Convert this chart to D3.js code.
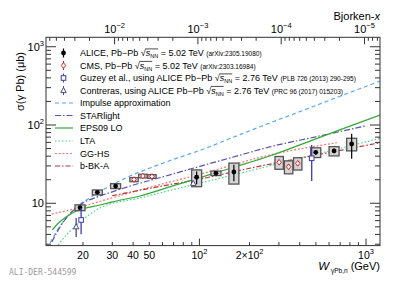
<!doctype html>
<html>
<head>
<meta charset="utf-8">
<script src="https://cdnjs.cloudflare.com/ajax/libs/d3/7.8.5/d3.min.js"></script>
<style>
  body { margin: 0; background: #fff; }
  svg { display: block; }
  text { font-family: "Liberation Sans", Arial, sans-serif; fill: #000; white-space: pre; }
</style>
</head>
<body>
<svg width="407" height="288"></svg>
<script>
// ---- data ----
var aliceW     = [19.2, 24.4, 31.4, 96.2, 125.7, 161, 499, 643, 820];
var aliceSigma = [8.8, 13.8, 16.6, 21.5, 24.2, 25.1, 44.8, 46.6, 57.2];
var aliceStat  = [0.5, 0.6, 0.7, 4.0, 1.0, 6.0, 3.0, 3.0, 20.0];
var aliceSyst  = [0.75, 1.0, 1.2, 5.2, 1.6, 7.5, 6.4, 6.3, 10.5];

var cmsW     = [40.5, 45.8, 51.9, 301, 343, 389];
var cmsSigma = [20.1, 22.3, 22.0, 33.4, 29.3, 32.4];
var cmsStat  = [0.6, 0.6, 0.6, 2.5, 2.5, 2.5];
var cmsSyst  = [1.2, 1.2, 1.2, 6.2, 5.5, 5.8];

var guzeyW     = [19.5, 472];
var guzeySigma = [6.12, 37.6];
var guzeyUp    = [2.6, 18.0];
var guzeyDown  = [2.1, 18.3];

var contrW     = [18.2, 91.8];
var contrSigma = [5.02, 18.0];
var contrUp    = [1.47, 1.0];
var contrDown  = [1.31, 1.0];

var impulseW = [12.7, 14, 16, 18.7, 22, 26, 30, 38.3, 50, 70, 102, 150, 264, 400, 600, 900, 1213];
var impulseS = [3.11, 4.5, 6.6, 9.24, 11.8, 14.6, 17.3, 22.3, 28.0, 36.4, 47.9, 66.2, 106, 148, 206, 286, 364];

var starlightW = [13, 15, 19.2, 25, 30, 38.3, 60, 102, 160, 264, 500, 989];
var starlightS = [3.2, 5.5, 9.5, 12.3, 14.0, 16.6, 21.7, 29.9, 39.0, 52.5, 70.7, 97.2];

var eps09W = [13.1, 14, 16, 18.3, 25.3, 30, 43.9, 70, 102, 160, 264, 500, 800, 1213];
var eps09S = [4.56, 5.4, 6.8, 7.97, 9.5, 10.4, 12.4, 16.8, 21.4, 28.8, 40.2, 66.6, 96.6, 134];

var ltaW = [14.2, 16, 19.2, 25.3, 43.9, 102, 231, 500, 1213];
var ltaS = [2.93, 4.0, 5.77, 8.71, 11.7, 18.2, 28.0, 42.2, 67.6];

var gghsW = [13, 16.7, 25, 43.9, 102, 264, 668];
var gghsS = [7.29, 8.21, 10.5, 14.8, 23.7, 41.4, 59.4];

var bbkW = [30, 50, 102, 200, 506, 1213];
var bbkS = [12.5, 15.5, 20.5, 28, 41.4, 59.4];

var bottomTicks = [20, 30, 40, 50, 100, 200, 1000];
var leftTicks = [10, 100, 1000];
var topTicks = [1e-2, 1e-3, 1e-4, 1e-5];
var MJPSI = 3.097;

// ---- layout ----
var svg = d3.select("svg");
var X0 = 46, X1 = 380, Y0 = 37.3, Y1 = 245.6;
var x = d3.scaleLog().domain([12.0, 1213]).range([X0, X1]);
var y = d3.scaleLog().domain([2.88, 1320]).range([Y1, Y0]);
var xb = d3.scaleLog()
  .domain([Math.pow(MJPSI / 12.0, 2), Math.pow(MJPSI / 1213, 2)])
  .range([X0, X1]);

function isDecade(v) {
  var l = Math.log10(v);
  return Math.abs(l - Math.round(l)) < 1e-6;
}

// text made of pieces (sub/superscripts, overlines)
function rich(g, x0, y0, parts, anchor) {
  var grp = g.append("g");
  var cx = 0, items = [];
  parts.forEach(function (p) {
    var t = grp.append("text").attr("x", cx).attr("y", p.dy || 0)
      .style("font-size", p.s + "px").text(p.t);
    if (p.i) t.style("font-style", "italic");
    var w = t.node().getComputedTextLength();
    items.push({ x: cx, w: w, p: p });
    cx += w;
  });
  var ol = items.filter(function (it) { return it.p.ol; });
  if (ol.length) {
    grp.append("line")
      .attr("x1", ol[0].x - 0.5).attr("x2", ol[ol.length - 1].x + ol[ol.length - 1].w)
      .attr("y1", ol[0].p.ol).attr("y2", ol[0].p.ol)
      .attr("stroke", "#000").attr("stroke-width", 0.7);
  }
  var shift = anchor === "end" ? -cx : anchor === "middle" ? -cx / 2 : 0;
  grp.attr("transform", "translate(" + (x0 + shift) + "," + y0 + ")");
  return grp;
}

// clip
svg.append("clipPath").attr("id", "frame").append("rect")
  .attr("x", X0).attr("y", Y0).attr("width", X1 - X0).attr("height", Y1 - Y0);

// ---- curves ----
function curve(ws, ss, color, dash, width) {
  var pts = ws.map(function (w, i) { return [w, ss[i]]; });
  svg.append("path")
    .attr("clip-path", "url(#frame)")
    .attr("d", d3.line().x(function (d) { return x(d[0]); })
      .y(function (d) { return y(d[1]); }).curve(d3.curveMonotoneX)(pts))
    .attr("fill", "none").attr("stroke", color)
    .attr("stroke-width", width || 1.2)
    .attr("stroke-dasharray", dash);
}
var styles = {
  impulse: ["#5aaaf5", "4,3"],
  starlight: ["#5a4fb0", "6,2,1.5,2"],
  eps09: ["#33a833", null],
  lta: ["#3fd98a", "1.5,2"],
  gghs: ["#ff6464", "1.8,2"],
  bbk: ["#b83232", "5,2,1.5,2"]
};
curve(impulseW, impulseS, styles.impulse[0], styles.impulse[1]);
curve(starlightW, starlightS, styles.starlight[0], styles.starlight[1]);
curve(gghsW, gghsS, styles.gghs[0], styles.gghs[1]);
curve(ltaW, ltaS, styles.lta[0], styles.lta[1]);
curve(bbkW, bbkS, styles.bbk[0], styles.bbk[1]);
curve(eps09W, eps09S, styles.eps09[0], styles.eps09[1]);

// ---- markers ----
function diamond(g, cx, cy, r, color) {
  g.append("path")
    .attr("d", "M" + cx + "," + (cy - r) + "L" + (cx + r * 0.8) + "," + cy + "L" + cx + "," + (cy + r) + "L" + (cx - r * 0.8) + "," + cy + "Z")
    .attr("fill", "#fff").attr("stroke", color).attr("stroke-width", 1);
}
function square(g, cx, cy, r, color) {
  g.append("rect").attr("x", cx - r).attr("y", cy - r).attr("width", 2 * r).attr("height", 2 * r)
    .attr("fill", "#fff").attr("stroke", color).attr("stroke-width", 1);
}
function triangle(g, cx, cy, r, color) {
  g.append("path")
    .attr("d", "M" + cx + "," + (cy - r) + "L" + (cx + r * 0.9) + "," + (cy + r * 0.7) + "L" + (cx - r * 0.9) + "," + (cy + r * 0.7) + "Z")
    .attr("fill", "#fff").attr("stroke", color).attr("stroke-width", 1);
}
function vbar(g, cx, y1, y2, color, w) {
  g.append("line").attr("x1", cx).attr("x2", cx).attr("y1", y1).attr("y2", y2)
    .attr("stroke", color).attr("stroke-width", w || 1);
}
function systBox(g, cx, s, e, hw) {
  g.append("rect").attr("x", cx - hw).attr("width", 2 * hw)
    .attr("y", y(s + e)).attr("height", y(s - e) - y(s + e))
    .attr("fill", "#d4d4d4").attr("stroke", "#555").attr("stroke-width", 1.3);
}

var pts = svg.append("g");
// CMS
cmsW.forEach(function (w, i) {
  var cx = x(w), s = cmsSigma[i];
  systBox(pts, cx, s, cmsSyst[i], 4.2);
  vbar(pts, cx, y(s + cmsStat[i]), y(s - cmsStat[i]), "#e02020");
  diamond(pts, cx, y(s), 2.8, "#e02020");
});
// ALICE
aliceW.forEach(function (w, i) {
  var cx = x(w), s = aliceSigma[i];
  systBox(pts, cx, s, aliceSyst[i], 5);
  vbar(pts, cx, y(s + aliceStat[i]), y(s - aliceStat[i]), "#000", 1.2);
  pts.append("circle").attr("cx", cx).attr("cy", y(s)).attr("r", 2.4).attr("fill", "#000");
});
// Guzey
guzeyW.forEach(function (w, i) {
  var cx = x(w), s = guzeySigma[i];
  vbar(pts, cx, y(s + guzeyUp[i]), y(s - guzeyDown[i]), "#3c3cb4", 1.3);
  square(pts, cx, y(s), 2.3, "#3c3cb4");
});
// Contreras
contrW.forEach(function (w, i) {
  var cx = x(w), s = contrSigma[i];
  vbar(pts, cx, y(s + contrUp[i]), y(s - contrDown[i]), "#4a4a8a", 1.3);
  triangle(pts, cx, y(s), 3, "#4a4a8a");
});

// ---- frame and ticks ----
var ax = svg.append("g").attr("stroke", "#333").attr("stroke-width", 1);
ax.append("rect").attr("x", X0).attr("y", Y0).attr("width", X1 - X0).attr("height", Y1 - Y0)
  .attr("fill", "none");
x.ticks().forEach(function (v) {
  var len = isDecade(v) ? 7 : 3.5;
  ax.append("line").attr("x1", x(v)).attr("x2", x(v)).attr("y1", Y1).attr("y2", Y1 - len);
});
xb.ticks().forEach(function (v) {
  var len = isDecade(v) ? 7 : 3.5;
  ax.append("line").attr("x1", xb(v)).attr("x2", xb(v)).attr("y1", Y0).attr("y2", Y0 + len);
});
y.ticks().forEach(function (v) {
  var len = isDecade(v) ? 10 : 5;
  ax.append("line").attr("x1", X0).attr("x2", X0 + len).attr("y1", y(v)).attr("y2", y(v));
  ax.append("line").attr("x1", X1).attr("x2", X1 - len).attr("y1", y(v)).attr("y2", y(v));
});

// ---- tick labels ----
var lab = svg.append("g");
bottomTicks.forEach(function (v) {
  var e = Math.round(Math.log10(v)), m = v / Math.pow(10, e);
  var parts;
  if (v < 100) parts = [{ t: String(v), s: 10.5 }];
  else if (Math.abs(m - 1) < 1e-6) parts = [{ t: "10", s: 10.5 }, { t: String(e), s: 7.5, dy: -4.5 }];
  else parts = [{ t: m + "\u00d710", s: 10.5 }, { t: String(e), s: 7.5, dy: -4.5 }];
  rich(lab, x(v), 258.5, parts, "middle");
});
leftTicks.forEach(function (v) {
  var e = Math.round(Math.log10(v));
  var parts = e === 1 ? [{ t: "10", s: 11 }] : [{ t: "10", s: 11 }, { t: String(e), s: 7.5, dy: -5 }];
  rich(lab, X0 - 2, y(v) + 4, parts, "end");
});
topTicks.forEach(function (v) {
  var e = Math.round(Math.log10(v));
  rich(lab, xb(v), 32.5, [{ t: "10", s: 11 }, { t: "\u2212" + (-e), s: 7.5, dy: -5 }], "middle");
});

// ---- axis titles ----
rich(svg, X1, 19.5, [{ t: "Bjorken-", s: 11 }, { t: "x", s: 11, i: 1 }], "end");
rich(svg, X1, 269.5, [{ t: "W", s: 11.5, i: 1 }, { t: " \u03b3Pb,n", s: 6.5, dy: 3 }, { t: " (GeV)", s: 11 }], "end");
svg.append("text").attr("transform", "translate(24,52) rotate(-90)")
  .attr("text-anchor", "end").style("font-size", "11px").text("\u03c3(\u03b3 Pb) (\u03bcb)");

svg.append("text").attr("x", 9).attr("y", 275)
  .style("font-family", "'DejaVu Sans Mono', monospace").style("font-size", "8px")
  .style("fill", "#9a9a9a").text("ALI-DER-544599");

// ---- legend ----
var leg = svg.append("g");
var rowY = [53, 65.5, 78, 90.5, 103, 115.5, 128, 141, 153.5, 166];
var mx = 63.5, tx = 80;
function sqrtNN(val) {
  return [{ t: "\u221a", s: 9 }, { t: "s", s: 9, i: 1, ol: -7.3 }, { t: "NN", s: 5.5, dy: 2, ol: -7.3 },
    { t: " = " + val + " TeV ", s: 9 }];
}
var dataRows = [
  [{ t: "ALICE, Pb\u2212Pb ", s: 9 }].concat(sqrtNN("5.02"), [{ t: "(arXiv:2305.19080)", s: 6.5 }]),
  [{ t: "CMS, Pb\u2212Pb ", s: 9 }].concat(sqrtNN("5.02"), [{ t: "(arXiv:2303.16984)", s: 6.5 }]),
  [{ t: "Guzey et al., using ALICE Pb\u2212Pb ", s: 9 }].concat(sqrtNN("2.76"), [{ t: "(PLB 726 (2013) 290-295)", s: 6.5 }]),
  [{ t: "Contreras, using ALICE Pb\u2212Pb ", s: 9 }].concat(sqrtNN("2.76"), [{ t: "(PRC 96 (2017) 015203)", s: 6.5 }])
];
dataRows.forEach(function (parts, i) { rich(leg, tx, rowY[i] + 3.2, parts, "start"); });
vbar(leg, mx, rowY[0] - 4.5, rowY[0] + 4.5, "#000", 1.2);
leg.append("circle").attr("cx", mx).attr("cy", rowY[0]).attr("r", 2.4).attr("fill", "#000");
vbar(leg, mx, rowY[1] - 4.5, rowY[1] + 4.5, "#e02020");
diamond(leg, mx, rowY[1], 2.8, "#e02020");
vbar(leg, mx, rowY[2] - 4.5, rowY[2] + 4.5, "#3c3cb4");
square(leg, mx, rowY[2], 2.3, "#3c3cb4");
vbar(leg, mx, rowY[3] - 4.5, rowY[3] + 4.5, "#4a4a8a");
triangle(leg, mx, rowY[3], 3, "#4a4a8a");

var modelNames = ["Impulse approximation", "STARlight", "EPS09 LO", "LTA", "GG-HS", "b-BK-A"];
var modelKeys = ["impulse", "starlight", "eps09", "lta", "gghs", "bbk"];
modelNames.forEach(function (name, i) {
  var yy = rowY[4 + i], st = styles[modelKeys[i]];
  leg.append("line").attr("x1", 55).attr("x2", 73).attr("y1", yy).attr("y2", yy)
    .attr("stroke", st[0]).attr("stroke-width", 1.2).attr("stroke-dasharray", st[1]);
  leg.append("text").attr("x", tx).attr("y", yy + 3.2).style("font-size", "9px").text(name);
});
</script>
</body>
</html>
